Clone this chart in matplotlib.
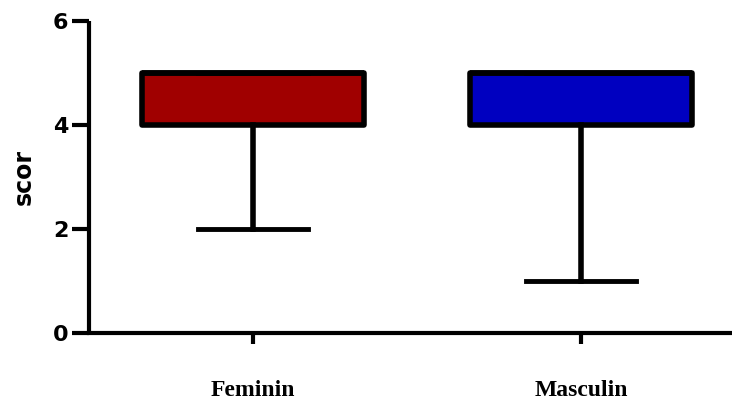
import matplotlib
matplotlib.use("Agg")
import matplotlib.pyplot as plt

categories = ["Feminin", "Masculin"]
mins = [2, 1]
q1s = [4, 4]
medians = [5, 5]
q3s = [5, 5]
maxs = [5, 5]
colors = ["#a00000", "#0000c0"]

fig = plt.figure(figsize=(7.32, 4.01), dpi=100)
ax = fig.add_axes([89/732, 68/401, 1 - 89/732, 312/401])

stats = []
for c, lo, a, m, b, hi in zip(categories, mins, q1s, medians, q3s, maxs):
    stats.append(dict(label=c, whislo=lo, q1=a, med=m, q3=b, whishi=hi))

bp = ax.bxp(stats, positions=[0, 1], widths=0.675, patch_artist=True,
            showfliers=False,
            boxprops=dict(linewidth=4, edgecolor="black", joinstyle="round"),
            whiskerprops=dict(linewidth=4, color="black"),
            capprops=dict(linewidth=3.5, color="black"),
            medianprops=dict(linewidth=4, color="black"),
            capwidths=0.335)
for patch, col in zip(bp["boxes"], colors):
    patch.set_facecolor(col)

ax.set_xlim(-0.5, 1.46)
ax.set_ylim(0, 6)
ax.set_yticks([0, 2, 4, 6])
ax.set_xticks([0, 1])
ax.set_xticklabels(categories, fontfamily="Liberation Serif", fontweight="bold", fontsize=17)
for lab in ax.get_yticklabels():
    lab.set_fontfamily("DejaVu Sans")
    lab.set_fontweight("heavy")
    lab.set_fontsize(16)
ax.set_ylabel("scor", fontfamily="DejaVu Sans", fontweight="bold", fontsize=17, labelpad=12)

for s in ["top", "right"]:
    ax.spines[s].set_visible(False)
ax.spines["left"].set_linewidth(3)
ax.spines["bottom"].set_linewidth(3)
ax.spines["left"].set_capstyle("butt")
ax.tick_params(axis="y", length=12, width=3, pad=3)
ax.tick_params(axis="x", length=8, width=3, pad=26)

fig.savefig("out.png", dpi=100)
